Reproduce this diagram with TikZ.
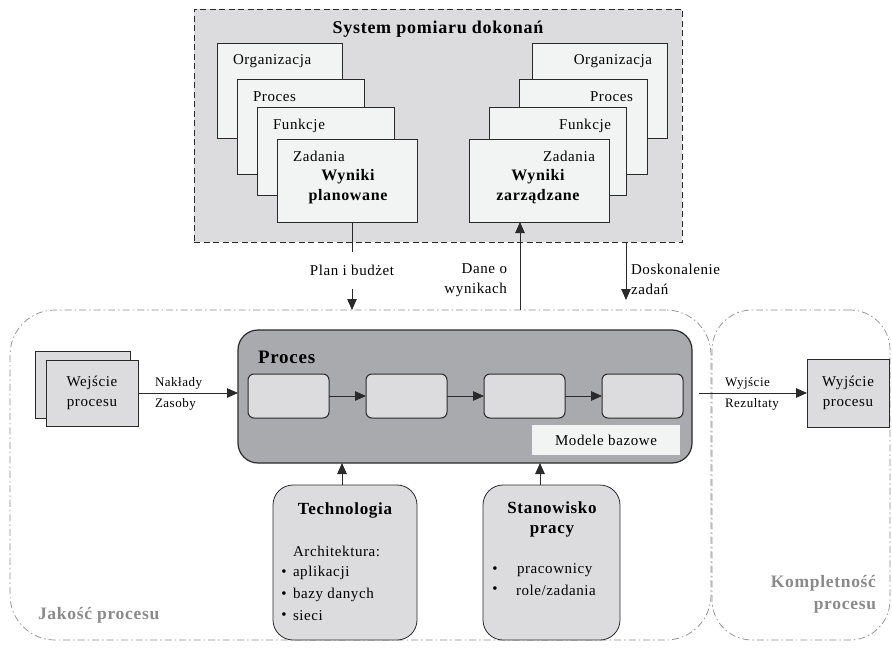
\documentclass[tikz,border=0pt]{standalone}
\usepackage{fontspec}
\setmainfont{Liberation Serif}[LetterSpace=4]
\usetikzlibrary{arrows.meta,calc}
\definecolor{topfill}{HTML}{DCDCDE}
\definecolor{stackfill}{HTML}{F2F3F3}
\definecolor{procfill}{HTML}{A9AAAD}
\definecolor{boxfill}{HTML}{DCDCDE}
\definecolor{lblgray}{HTML}{8A8A8A}
\definecolor{linec}{HTML}{2A2A2A}
\definecolor{outerc}{HTML}{8C8C8C}
\begin{document}
\begin{tikzpicture}[x=1pt,y=-1pt,
  every node/.style={inner sep=0pt, outer sep=0pt},
  arr/.style={-{Triangle[length=11pt,width=9.5pt]}, line width=0.9pt, draw=linec},
  ln/.style={line width=0.9pt, draw=linec},
  sbox/.style={draw=linec, line width=0.8pt, fill=stackfill, anchor=north west},
  gbox/.style={draw=linec, line width=0.8pt, fill=boxfill, anchor=north west},
  ibox/.style={draw=linec, line width=1pt, fill=boxfill, rounded corners=6pt, anchor=north west, minimum width=81pt, minimum height=44pt},
  outerbox/.style={draw=outerc, line width=0.7pt, dash pattern=on 7pt off 3pt on 1.5pt off 3pt, anchor=north west},
  t15/.style={font=\fontsize{15}{20}\selectfont},
  t13/.style={font=\fontsize{13}{16}\selectfont},
  b16/.style={font=\bfseries\fontsize{16}{20}\selectfont},
  b17/.style={font=\bfseries\fontsize{17}{20}\selectfont},
  lbl/.style={font=\bfseries\fontsize{17.5}{22}\selectfont, text=lblgray}
]
\useasboundingbox (0,0) rectangle (892,650);

% top measurement system box
\node[draw=linec, dash pattern=on 6pt off 3.5pt, line width=0.8pt, fill=topfill, anchor=north west, minimum width=488pt, minimum height=233pt] (top) at (194,9) {};
\node[font=\bfseries\fontsize{18}{22}\selectfont] (title) at (438,29) {System pomiaru dokonań};

% left stack
\node[sbox, minimum width=125pt, minimum height=95pt] (lo) at (217,43) {};
\node[t15, anchor=west] (lot) at (233,61) {Organizacja};
\node[sbox, minimum width=127pt, minimum height=95pt] (lp) at (237,79) {};
\node[t15, anchor=west] (lpt) at (253,97) {Proces};
\node[sbox, minimum width=137pt, minimum height=88pt] (lf) at (257,107) {};
\node[t15, anchor=west] (lft) at (273,126) {Funkcje};
\node[sbox, minimum width=140pt, minimum height=83pt] (lz) at (277,139) {};
\node[t15, anchor=west] (lzt) at (293,156) {Zadania};
\node[b16, align=center] (wp) at (348,187) {Wyniki\\planowane};

% right stack
\node[sbox, minimum width=135pt, minimum height=95pt] (ro) at (532,43) {};
\node[t15, anchor=east] (rot) at (652,61) {Organizacja};
\node[sbox, minimum width=128pt, minimum height=95pt] (rp) at (519,79) {};
\node[t15, anchor=east] (rpt) at (633,97) {Proces};
\node[sbox, minimum width=137pt, minimum height=88pt] (rf) at (489,107) {};
\node[t15, anchor=east] (rft) at (611,126) {Funkcje};
\node[sbox, minimum width=140pt, minimum height=83pt] (rz) at (469,139) {};
\node[t15, anchor=east] (rzt) at (595,156) {Zadania};
\node[b16, align=center] (wz) at (538,187) {Wyniki\\zarządzane};

% outer dash-dot regions
\node[outerbox, minimum width=701pt, minimum height=330pt, rounded corners=45pt] (jak) at (10,310) {};
\node[outerbox, minimum width=178pt, minimum height=330pt, rounded corners=40pt] (komp) at (712,310) {};
\node[lbl, anchor=west] (jakl) at (38,615) {Jakość procesu};
\node[lbl, anchor=east, align=right] (kompl) at (876,594) {Kompletność\\procesu};

% connections with the measurement system
\node[t15, minimum height=37pt] (pb) at (352,270) {Plan i budżet};
\draw[ln] (pb.north |- lz.south) -- (pb.north);
\draw[arr] (pb.south) -- (pb.south |- jak.north);
\coordinate (dw) at (520,310);
\draw[arr] (dw) -- (dw |- rz.south);
\node[t15, anchor=east, align=right] (dwl) at (507,280) {Dane o\\wynikach};
\coordinate (dk) at (626,300);
\draw[arr] (dk |- top.south) -- (dk);
\node[t15, anchor=west, align=left] (dkl) at (631,279) {Doskonalenie\\zadań};

% process box
\node[draw=linec, line width=1.2pt, fill=procfill, rounded corners=20pt, anchor=north west, minimum width=454pt, minimum height=133pt] (proc) at (238,330) {};
\node[font=\bfseries\fontsize{19}{22}\selectfont, anchor=west] (proct) at (258,357) {Proces};
\node[ibox] (p1) at (248,374) {};
\node[ibox] (p2) at (366,374) {};
\node[ibox] (p3) at (484,374) {};
\node[ibox] (p4) at (602,374) {};
\draw[arr] (p1) -- (p2);
\draw[arr] (p2) -- (p3);
\draw[arr] (p3) -- (p4);
\node[fill=stackfill, minimum width=148pt, minimum height=30pt, t15] (mb) at (606,440) {Modele bazowe};

% input
\node[gbox, minimum width=95pt, minimum height=67pt] (wb) at (35,351) {};
\node[gbox, minimum width=92pt, minimum height=66pt, align=center, t15] (wej) at (46,360) {Wejście\\procesu};
\draw[arr] (wej.east) -- (wej.east -| proc.west);
\node[t13, anchor=west] (nak) at (155,383) {Nakłady};
\node[t13, anchor=west] (zas) at (155,404) {Zasoby};

% output
\coordinate (os) at (699,393);
\node[gbox, minimum width=82pt, minimum height=68pt, align=center, t15] (wy) at (807,359) {Wyjście\\procesu};
\draw[arr] (os) -- (os -| wy.west);
\node[t13, anchor=west] (wyl) at (725,383) {Wyjście};
\node[t13, anchor=west] (rez) at (725,404) {Rezultaty};

% technology
\node[gbox, rounded corners=20pt, minimum width=144pt, minimum height=155pt] (tech) at (273,485) {};
\node[b17] (techt) at (345,510) {Technologia};
\node[t15, anchor=west] (arch) at (293,551) {Architektura:};
\node[t15] (tb1) at (284,573) {\textbullet};
\node[t15, anchor=west] (ap) at (293,573) {aplikacji};
\node[t15] (tb2) at (284,595) {\textbullet};
\node[t15, anchor=west] (bd) at (293,595) {bazy danych};
\node[t15] (tb3) at (284,616) {\textbullet};
\node[t15, anchor=west] (si) at (293,616) {sieci};
\coordinate (ta) at (342,485);
\draw[arr] (ta) -- (ta |- proc.south);

% workstation
\node[gbox, rounded corners=20pt, minimum width=137pt, minimum height=155pt] (stan) at (483,485) {};
\node[b17, align=center] (stant) at (552,519) {Stanowisko\\pracy};
\node[t15] (sb1) at (495,570) {\textbullet};
\node[t15, anchor=west] (prc) at (517,570) {pracownicy};
\node[t15] (sb2) at (495,590) {\textbullet};
\node[t15, anchor=west] (rol) at (516,590) {role/zadania};
\coordinate (sa) at (540,485);
\draw[arr] (sa) -- (sa |- proc.south);
\end{tikzpicture}
\end{document}
